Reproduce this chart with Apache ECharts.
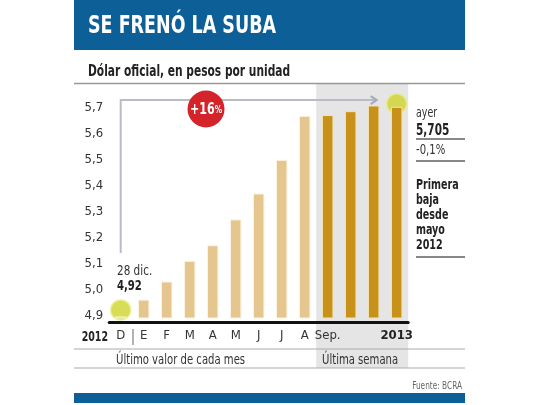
<!DOCTYPE html>
<html><head><meta charset="utf-8">
<script src="https://cdn.jsdelivr.net/npm/echarts@6/dist/echarts.min.js"></script>
<style>html,body{margin:0;padding:0;background:#fff}#c{width:540px;height:405px}</style>
</head><body><div id="c"></div>
<script>
// ---- data ----
const periods = ['dic-2012','ene','feb','mar','abr','may','jun','jul','ago','sep-1','sep-2','sep-3','sep-4'];
const tickLabels = ['D','E','F','M','A','M','J','J','A','Sep.','','','2013'];
const monthlyValues = [4.895, 4.96, 5.03, 5.11, 5.17, 5.27, 5.37, 5.50, 5.67];
const weeklyValues = [5.673, 5.688, 5.71, 5.705];
const yTickValues = [4.9, 5.0, 5.1, 5.2, 5.3, 5.4, 5.5, 5.6, 5.7];
const startValue = 4.92;
const startLabel = '28 dic.';
const changeSinceStart = '+16';
const dailyChange = '-0,1%';
const noteLines = ['Primera', 'baja', 'desde', 'mayo', '2012'];

const F = '"Liberation Sans Narrow","DejaVu Sans Condensed",sans-serif';
const comma = v => String(v).replace('.', ',');

const chart = echarts.init(document.getElementById('c'), null, {renderer: 'canvas', width: 540, height: 405});
const nM = monthlyValues.length;
const lastIdx = periods.length - 1;
const lastVal = weeklyValues[weeklyValues.length - 1];
const monthlySeries = periods.map((p, i) => i < nM ? monthlyValues[i] : '-');
const weeklySeries = periods.map((p, i) => i >= nM ? weeklyValues[i - nM] : '-');

chart.setOption({
  animation: false,
  backgroundColor: '#fff',
  grid: {left: 109.2, right: 131.8, top: 84, bottom: 87},
  xAxis: {
    type: 'category', data: periods, offset: 4.5, z: 5,
    axisLine: {lineStyle: {color: '#111', width: 3}},
    axisTick: {show: false},
    axisLabel: {
      interval: 0, margin: 7, color: '#333', fontFamily: F, fontSize: 13,
      formatter: (v, i) => tickLabels[i] === '2013' ? '{b|2013}' : tickLabels[i],
      rich: {b: {fontWeight: 'bold', fontFamily: F, fontSize: 13, color: '#222'}}
    }
  },
  yAxis: {
    type: 'value', min: 4.889, max: 5.793,
    splitLine: {show: false}, axisLine: {show: false}, axisTick: {show: false},
    axisLabel: {
      customValues: yTickValues, margin: 6, color: '#333', fontFamily: F, fontSize: 13,
      formatter: v => v.toFixed(1).replace('.', ',')
    }
  },
  series: [
    {type: 'scatter', z: 2, silent: true, clip: true, symbolSize: 20,
     data: [[0, startValue], {value: [lastIdx, lastVal], symbolOffset: [0, -3]}],
     itemStyle: {color: '#cfd52a', borderColor: '#e8ec8c', borderWidth: 1.5}},
    {type: 'bar', z: 3, data: monthlySeries, barWidth: 11.5, barGap: '-100%',
     itemStyle: {color: '#e4c68e', borderColor: '#fbf3e2', borderWidth: 1}},
    {type: 'bar', z: 3, data: weeklySeries, barWidth: 11.5, barGap: '-100%',
     itemStyle: {color: '#c8911a', borderColor: '#f3e2b8', borderWidth: 1}}
  ]
});

const px = (i, v) => chart.convertToPixel({gridIndex: 0}, [i, v]);
const band = px(1, 5)[0] - px(0, 5)[0];
const shadeL = (px(nM - 1, 5)[0] + px(nM, 5)[0]) / 2;
const shadeR = px(lastIdx, 5)[0] + band / 2;
const shadeT = px(0, 5.793)[1];
const xD = px(0, 5)[0];
const yTop = px(0, 5.731)[1];
const xEnd = px(lastIdx, 5)[0] - 20;

const T = (text, x, y, size, opts, sx) => ({
  type: 'text', x: x, y: y, z: 20, scaleX: sx || 0.8,
  style: Object.assign({text: text, fill: '#333', fontFamily: F, fontSize: size, fontWeight: 'normal',
    textAlign: 'left', align: 'left', textVerticalAlign: 'middle', verticalAlign: 'middle'}, (opts || {}))
});
const L = (x1, y1, x2, y2, color, w) => ({type: 'line', z: 10, shape: {x1, y1, x2, y2}, style: {stroke: color, lineWidth: w}});

const g = [
  {type: 'rect', z: 0, shape: {x: shadeL, y: shadeT, width: shadeR - shadeL, height: 368 - shadeT}, style: {fill: '#e5e5e5'}},
  {type: 'rect', z: 1, shape: {x: 74, y: 0, width: 391, height: 50}, style: {fill: '#0d5f98'}},
  T('SE FRENÓ LA SUBA', 88, 27, 24, {fill: '#fff', fontWeight: 'bold'}, 0.81),
  T('Dólar oficial, en pesos por unidad', 88, 72, 15, {fill: '#222', fontWeight: 'bold'}, 0.79),
  L(74, 83.5, 465, 83.5, '#999', 1.5),
  // frame arrow
  {type: 'polyline', z: 4, shape: {points: [[xD, 253], [xD, yTop], [xEnd, yTop]]}, style: {stroke: '#b8bcc6', lineWidth: 2, fill: null}},
  {type: 'polyline', z: 4, shape: {points: [[xEnd - 6, yTop - 4], [xEnd, yTop], [xEnd - 6, yTop + 4]]}, style: {stroke: '#a4aabb', lineWidth: 2, fill: null}},
  {type: 'circle', z: 12, shape: {cx: 206, cy: 109, r: 18.5}, style: {fill: '#d42329'}},
  {type: 'text', z: 13, x: 206, y: 110, scaleX: 0.82, style: {text: '{a|' + changeSinceStart + '}{b|%}', textAlign: 'center', align: 'center', textVerticalAlign: 'middle', verticalAlign: 'middle',
    rich: {a: {fill: '#fff', color: '#fff', fontFamily: F, fontWeight: 'bold', fontSize: 15}, b: {fill: '#fff', color: '#fff', fontFamily: F, fontWeight: 'bold', fontSize: 10}}}},
  T(startLabel, 117, 271, 14, null, 0.83),
  T(comma(startValue), 117, 286, 14, {fill: '#222', fontWeight: 'bold'}, 0.8),
  // x axis extras
  T('2012', 108, 337, 14, {fill: '#222', fontWeight: 'bold', textAlign: 'right', align: 'right'}, 0.75),
  L(133, 329, 133, 345, '#666', 1),
  L(74, 349, 465, 349, '#aaa', 1),
  T('Último valor de cada mes', 116, 360, 14, null, 0.8),
  T('Última semana', 322, 360, 14, null, 0.8),
  L(74, 368, 465, 368, '#aaa', 1),
  T('Fuente: BCRA', 462, 386, 10, {fill: '#666', textAlign: 'right', align: 'right'}, 0.82),
  {type: 'rect', z: 1, shape: {x: 74, y: 393, width: 391, height: 10}, style: {fill: '#0d5f98'}},
  // right notes
  T('ayer', 416, 113, 14, null, 0.75),
  T(lastVal.toFixed(3).replace('.', ','), 416, 131, 15, {fill: '#222', fontWeight: 'bold'}, 0.78),
  L(416, 139, 465, 139, '#888', 2),
  T(dailyChange, 416, 150, 14, null, 0.8),
  L(416, 161, 465, 161, '#888', 2),
  L(416, 257, 465, 257, '#888', 2)
];
noteLines.forEach((s, i) => g.push(T(s, 416, 185 + i * 15, 14, {fill: '#222', fontWeight: 'bold'}, 0.76)));

chart.setOption({graphic: g});
</script>
</body></html>
